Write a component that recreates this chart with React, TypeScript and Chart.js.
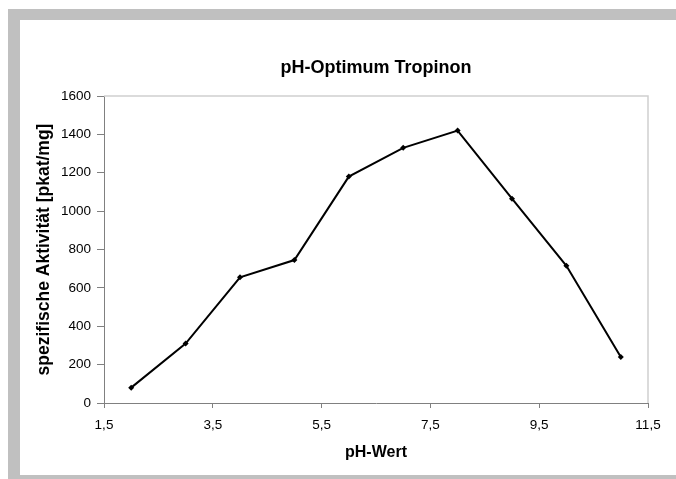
import React, { useEffect, useRef } from "react";
import { Chart, registerables } from "chart.js";

Chart.register(...registerables);

const chartTitle = "pH-Optimum Tropinon";
const xAxisTitle = "pH-Wert";
const yAxisTitle = "spezifische Aktivität [pkat/mg]";
const phValues = [2, 3, 4, 5, 6, 7, 8, 9, 10, 11];
const activity = [80, 310, 655, 745, 1180, 1330, 1420, 1065, 715, 240];
const xMin = 1.5;
const xMax = 11.5;
const xStep = 2;
const yMin = 0;
const yMax = 1600;
const yStep = 200;

const FONT = "'Liberation Sans', Arial, sans-serif";

const framePlugin = {
  id: "frame",
  beforeDraw(chart: any) {
    const { ctx, width, height } = chart;
    ctx.save();
    ctx.fillStyle = "#ffffff";
    ctx.fillRect(0, 0, width, height);
    ctx.fillStyle = "#c0c0c0";
    ctx.fillRect(8, 9, width - 8, height - 9);
    ctx.fillStyle = "#ffffff";
    ctx.fillRect(20, 20, width - 20, height - 24);
    ctx.restore();
  },
  beforeDatasetsDraw(chart: any) {
    const { ctx, chartArea } = chart;
    ctx.save();
    ctx.strokeStyle = "#d0d0d0";
    ctx.lineWidth = 1.5;
    ctx.beginPath();
    ctx.moveTo(chartArea.left, chartArea.top);
    ctx.lineTo(chartArea.right, chartArea.top);
    ctx.lineTo(chartArea.right, chartArea.bottom);
    ctx.stroke();
    ctx.restore();
  },
};

export default function App() {
  const canvasRef = useRef<HTMLCanvasElement | null>(null);

  useEffect(() => {
    if (!canvasRef.current) return;
    const chart = new Chart(canvasRef.current, {
      type: "line",
      data: {
        datasets: [
          {
            data: phValues.map((x, i) => ({ x, y: activity[i] })),
            borderColor: "#000000",
            backgroundColor: "#000000",
            borderWidth: 2,
            pointStyle: "rectRot",
            pointRadius: 3,
            pointBorderWidth: 0,
            tension: 0,
            fill: false,
          },
        ],
      },
      options: {
        animation: false,
        responsive: false,
        devicePixelRatio: 1,
        layout: { padding: { left: 20, top: 20, right: 28, bottom: 4 } },
        plugins: {
          legend: { display: false },
          tooltip: { enabled: false },
          title: {
            display: true,
            fullSize: false,
            text: chartTitle,
            color: "#000000",
            font: { family: FONT, size: 18, weight: "bold" },
            padding: { top: 37, bottom: 17.4 },
          },
        },
        scales: {
          x: {
            type: "linear",
            min: xMin,
            max: xMax,
            afterFit: (s: any) => {
              s.height = 72;
            },
            ticks: {
              stepSize: xStep,
              color: "#000000",
              font: { family: FONT, size: 13.5 },
              padding: 9,
              maxRotation: 0,
              callback: (v: any) => Number(v).toFixed(1).replace(".", ","),
            },
            grid: {
              drawOnChartArea: false,
              drawTicks: true,
              tickLength: 5,
              color: "#808080",
            },
            border: { color: "#808080", width: 1 },
            title: {
              display: true,
              text: xAxisTitle,
              color: "#000000",
              font: { family: FONT, size: 16, weight: "bold" },
              padding: { top: 0, bottom: 13 },
            },
          },
          y: {
            type: "linear",
            min: yMin,
            max: yMax,
            afterFit: (s: any) => {
              s.width = 84;
            },
            ticks: {
              stepSize: yStep,
              color: "#000000",
              font: { family: FONT, size: 13.5 },
              padding: 6,
              callback: (v: any) => String(v),
            },
            grid: {
              drawOnChartArea: false,
              drawTicks: true,
              tickLength: 7,
              color: "#808080",
            },
            border: { color: "#808080", width: 1 },
            title: {
              display: true,
              text: yAxisTitle,
              color: "#000000",
              font: { family: FONT, size: 17.5, weight: "bold" },
              padding: { top: 13.5, bottom: 0 },
            },
          },
        },
      },
      plugins: [framePlugin],
    } as any);
    return () => chart.destroy();
  }, []);

  return (
    <div style={{ position: "absolute", left: 0, top: 0, width: 676, height: 479 }}>
      <canvas ref={canvasRef} width={676} height={479} style={{ width: 676, height: 479, display: "block" }} />
    </div>
  );
}
